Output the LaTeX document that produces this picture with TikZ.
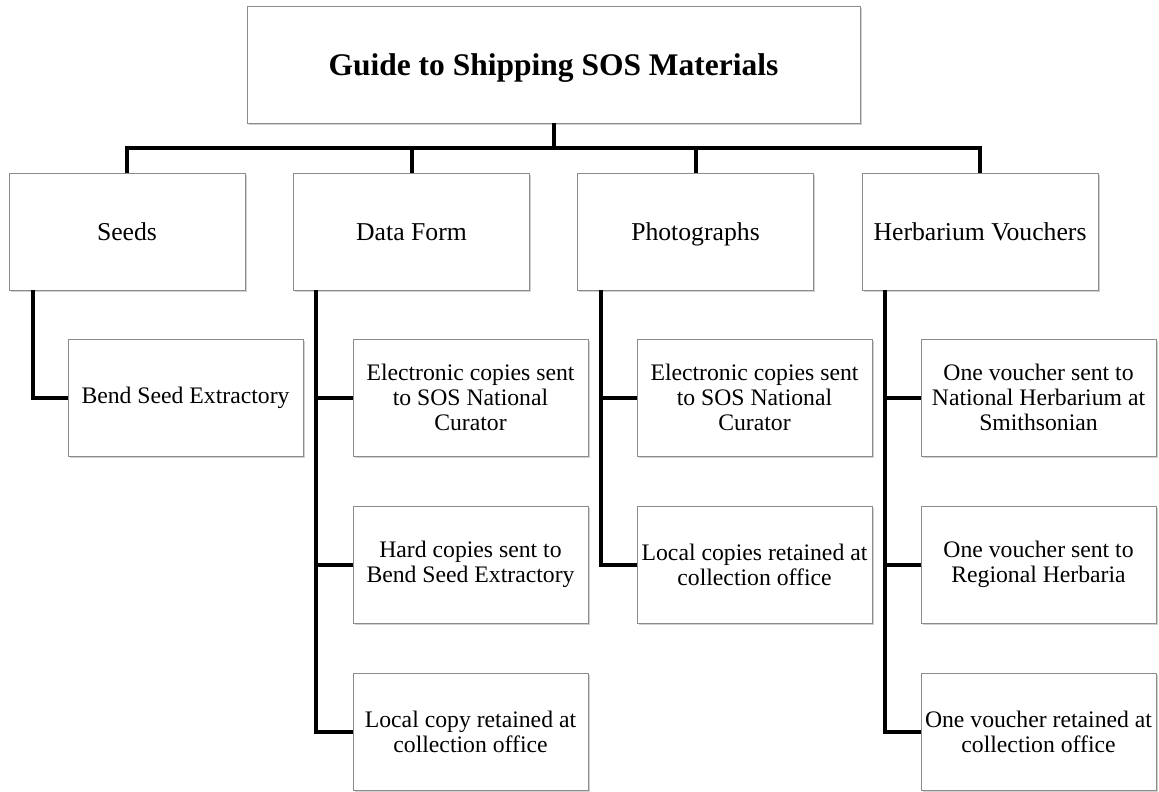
\documentclass[tikz,border=0pt]{standalone}
\usepackage{fontspec}
\setmainfont{Liberation Serif}
\usetikzlibrary{shadows,calc}
\begin{document}
\begin{tikzpicture}[x=1pt,y=-1pt,
 box/.style={draw=black!45, line width=0.8pt, fill=white,
   drop shadow={shadow xshift=1.5pt,shadow yshift=-2pt,opacity=0.3,fill=black!60},
   inner sep=0pt, align=center},
 topbox/.style={box, minimum width=613pt, minimum height=117pt, text height=21pt, text depth=0pt,
   font=\fontsize{31.5}{36}\selectfont\bfseries},
 lvone/.style={box, minimum width=236pt, minimum height=117pt, text height=17pt, text depth=0pt,
   font=\fontsize{25.7}{29}\selectfont},
 lvtwo/.style={box, minimum width=235pt, minimum height=117pt, font=\fontsize{23.7}{25}\selectfont},
 conn/.style={line width=4pt, black}]
\useasboundingbox[fill=white] (0,0) rectangle (1159,792);

\node[topbox] (top) at (553.5,64.5) {Guide to Shipping SOS Materials};
\node[lvone] (seeds) at (127,231.5) {Seeds};
\node[lvone] (dataf) at (411.5,231.5) {Data Form};
\node[lvone] (photo) at (695.5,231.5) {Photographs};
\node[lvone] (herb) at (980,231.5) {Herbarium Vouchers};

\node[lvtwo] (bend) at (185.5,397.5) {Bend Seed Extractory};
\node[lvtwo] (d1) at (470.5,397.5) {Electronic copies sent\\to SOS National\\Curator};
\node[lvtwo] (d2) at (470.5,564.5) {Hard copies sent to\\Bend Seed Extractory};
\node[lvtwo] (d3) at (470.5,731.5) {Local copy retained at\\collection office};
\node[lvtwo] (p1) at (754.5,397.5) {Electronic copies sent\\to SOS National\\Curator};
\node[lvtwo] (p2) at (754.5,564.5) {Local copies retained at\\collection office};
\node[lvtwo] (h1) at (1038.5,397.5) {One voucher sent to\\National Herbarium at\\Smithsonian};
\node[lvtwo] (h2) at (1038.5,564.5) {One voucher sent to\\Regional Herbaria};
\node[lvtwo] (h3) at (1038.5,731.5) {One voucher retained at\\collection office};

\coordinate (bus) at ([yshift=-25pt]top.south);
\draw[conn] (top.south) -- (bus);
\draw[conn] (seeds.north) |- (bus) -| (herb.north);
\draw[conn] (dataf.north) -- (dataf.north |- bus);
\draw[conn] (photo.north) -- (photo.north |- bus);

\coordinate (sv) at ([xshift=24pt]seeds.south west);
\draw[conn] (sv) |- (bend.west);

\coordinate (dv) at ([xshift=23pt]dataf.south west);
\draw[conn] (dv) |- (d3.west);
\draw[conn] (dv |- d1.west) -- (d1.west);
\draw[conn] (dv |- d2.west) -- (d2.west);

\coordinate (pv) at ([xshift=24pt]photo.south west);
\draw[conn] (pv) |- (p2.west);
\draw[conn] (pv |- p1.west) -- (p1.west);

\coordinate (hv) at ([xshift=23pt]herb.south west);
\draw[conn] (hv) |- (h3.west);
\draw[conn] (hv |- h1.west) -- (h1.west);
\draw[conn] (hv |- h2.west) -- (h2.west);
\end{tikzpicture}
\end{document}
